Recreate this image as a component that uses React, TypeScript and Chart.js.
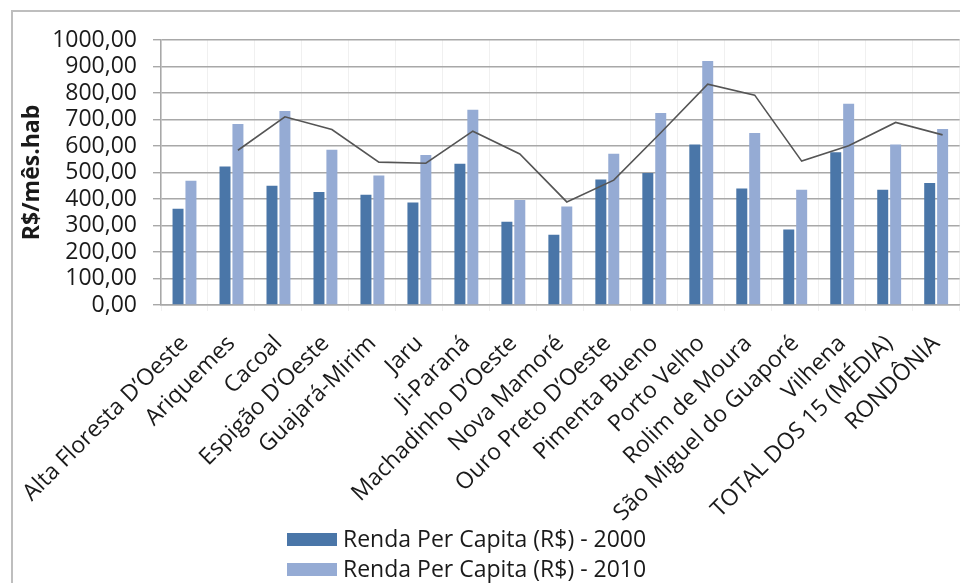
import React, { useEffect, useRef } from "react";
import { Chart, registerables } from "chart.js";
Chart.register(...registerables);

const categories = [
  "Alta Floresta D’Oeste",
  "Ariquemes",
  "Cacoal",
  "Espigão D’Oeste",
  "Guajará-Mirim",
  "Jaru",
  "Ji-Paraná",
  "Machadinho D’Oeste",
  "Nova Mamoré",
  "Ouro Preto D’Oeste",
  "Pimenta Bueno",
  "Porto Velho",
  "Rolim de Moura",
  "São Miguel do Guaporé",
  "Vilhena",
  "TOTAL DOS 15 (MÉDIA)",
  "RONDÔNIA",
];

const renda2000 = [363, 523, 450, 426, 416, 387, 533, 314, 265, 474, 498, 606, 440, 285, 576, 435, 460];
const renda2010 = [469, 683, 732, 586, 489, 566, 737, 396, 372, 571, 725, 921, 649, 435, 759, 606, 664];
const mediaMovel = [null, 584, 710, 662, 539, 535, 656, 570, 389, 471, 650, 833, 792, 543, 601, 689, 642];

const label2000 = "Renda Per Capita (R$) - 2000";
const label2010 = "Renda Per Capita (R$) - 2010";
const yTitle = "R$/mês.hab";

const CAT_PCT = 0.55;
const BAR_PCT = 0.85;
const FONT = "'Open Sans', sans-serif";
const FS = 23;

const borderPlugin = {
  id: "frame",
  beforeDraw(chart: any) {
    const c = chart.ctx;
    c.save();
    c.strokeStyle = "#BEBEBE";
    c.lineWidth = 2;
    c.beginPath();
    c.moveTo(12, chart.height);
    c.lineTo(12, 11);
    c.lineTo(chart.width, 11);
    c.stroke();
    c.restore();
  },
};

// Excel draws the moving-average trendline at the 2010 bars' positions
const alignLinePlugin = {
  id: "alignLine",
  afterDatasetsUpdate(chart: any) {
    const lineMeta = chart.getDatasetMeta(2);
    const barMeta = chart.getDatasetMeta(1);
    lineMeta.data.forEach((pt: any, i: number) => {
      if (barMeta.data[i]) pt.x = barMeta.data[i].x;
    });
  },
};

const legendPlugin = {
  id: "stackedLegend",
  afterDraw(chart: any) {
    const c = chart.ctx;
    c.save();
    c.font = FS + "px " + FONT;
    c.textBaseline = "middle";
    c.textAlign = "left";
    let row = 0;
    chart.data.datasets.forEach((ds: any) => {
      if (ds.type === "line") return;
      const y = 540 + row * 30;
      c.fillStyle = ds.backgroundColor;
      c.fillRect(287, y - 7, 50, 13);
      c.fillStyle = "#1a1a1a";
      c.fillText(ds.label, 343, y);
      row++;
    });
    c.restore();
  },
};

export default function App() {
  const ref = useRef<HTMLCanvasElement>(null);
  useEffect(() => {
    document.body.style.margin = "0";
    document.body.style.overflow = "hidden";
    const canvas = ref.current!;
    const chart = new Chart(canvas, {
      type: "bar",
      data: {
        labels: categories,
        datasets: [
          {
            type: "bar",
            label: label2000,
            data: renda2000,
            backgroundColor: "#4A76A8",
            categoryPercentage: CAT_PCT,
            barPercentage: BAR_PCT,
            order: 1,
          },
          {
            type: "bar",
            label: label2010,
            data: renda2010,
            backgroundColor: "#95ABD4",
            categoryPercentage: CAT_PCT,
            barPercentage: BAR_PCT,
            order: 1,
          },
          {
            type: "line",
            label: "Média móvel",
            data: mediaMovel,
            borderColor: "#555555",
            borderWidth: 1.6,
            pointRadius: 0,
            fill: false,
            tension: 0,
            order: 0,
          } as any,
        ],
      },
      options: {
        responsive: false,
        animation: false,
        devicePixelRatio: 1,
        layout: { padding: { left: 12, top: 40, right: 11, bottom: 0 } },
        plugins: {
          legend: { display: false },
          tooltip: { enabled: false },
        },
        scales: {
          x: {
            type: "category",
            offset: true,
            grid: {
              offset: true,
              color: "rgba(0,0,0,0.06)",
              tickLength: 6,
              drawTicks: true,
            },
            border: { color: "#A8A8A8", width: 1.5 },
            ticks: {
              autoSkip: false,
              maxRotation: 45,
              minRotation: 45,
              color: "#1a1a1a",
              padding: 19,
              font: { family: FONT, size: FS },
            },
            afterFit: (s: any) => {
              s.height = 278;
            },
          },
          y: {
            min: 0,
            max: 1000,
            ticks: {
              stepSize: 100,
              autoSkip: false,
              padding: 16,
              color: "#1a1a1a",
              font: { family: FONT, size: FS },
              callback: (v: any) => Number(v).toFixed(2).replace(".", ","),
            },
            grid: { color: "#A8A8A8", lineWidth: 1.4, tickLength: 8 },
            border: { color: "#A8A8A8", width: 1.5 },
            title: {
              display: true,
              text: yTitle,
              color: "#1a1a1a",
              font: { family: FONT, size: FS, weight: "bold" },
              padding: { top: 7, bottom: 0 },
            },
            afterFit: (s: any) => {
              s.width = 149;
            },
          },
        },
      },
      plugins: [borderPlugin, alignLinePlugin, legendPlugin],
    } as any);
    return () => chart.destroy();
  }, []);
  return (
    <div
      style={{
        position: "fixed",
        left: 0,
        top: 0,
        width: 960,
        height: 583,
        overflow: "hidden",
        background: "#fff",
      }}
    >
      <canvas ref={ref} width={975} height={583} style={{ width: 975, height: 583, display: "block" }} />
    </div>
  );
}
